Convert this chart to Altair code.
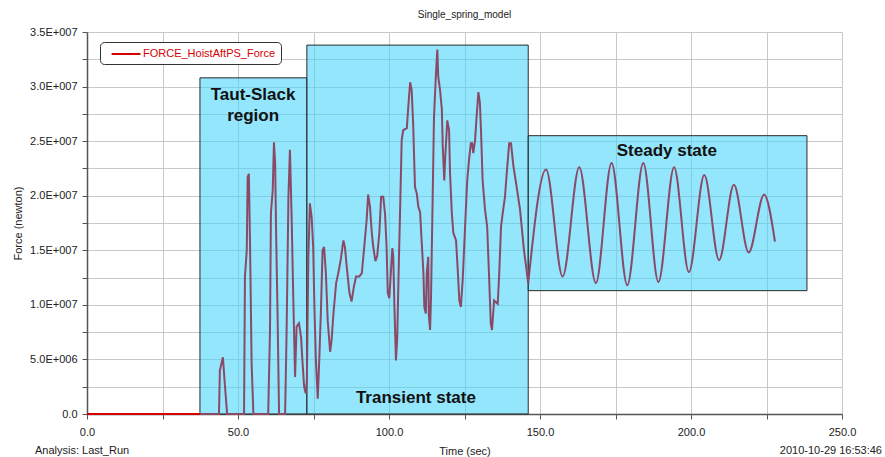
import altair as alt
import pandas as pd

# ---- data (time in s, force in 1e6 N) ----
t_red = [0.0, 37.4]
f_red = [0.0, 0.0]

# taut-slack + transient part
t_force = [37.4, 43.7, 44.0, 45.0, 45.7, 46.4, 52.0, 52.3, 52.9, 53.2, 53.6, 54.0, 54.5, 55.1,
           60.0, 60.6, 60.9, 61.5, 61.9, 62.3, 62.6, 63.1, 63.6, 65.6, 66.1, 66.7, 67.2, 67.8,
           68.3, 68.9, 69.4, 70.2, 70.9, 71.3, 71.9, 72.4, 72.8, 73.3, 73.8, 74.4, 74.9, 75.3,
           75.8, 76.4, 76.9, 77.5, 78.0, 78.5, 79.1, 79.7, 80.5, 81.0, 81.6, 82.5, 83.2, 84.0,
           84.9, 85.4, 86.0, 86.9, 87.6, 88.4, 89.1, 90.2, 91.0, 91.7, 92.6, 93.1, 93.7, 94.3,
           94.8, 95.5, 96.1, 96.8, 97.4, 98.1, 98.7, 99.2, 99.6, 100.1, 100.6, 101.1, 101.4,
           101.8, 102.3, 102.7, 103.3, 103.6, 104.2, 104.7, 105.9, 106.4, 107.0, 107.5, 108.0,
           108.6, 109.2, 109.7, 110.3, 110.8, 111.4, 111.7, 112.2, 112.5, 113.0, 113.2, 113.6,
           113.9, 114.3, 114.9, 115.5, 116.0, 116.3, 116.9, 117.5, 117.8, 118.3, 118.6, 119.3,
           119.9, 120.2, 120.8, 121.3, 122.2, 122.7, 123.3, 123.8, 124.4, 125.2, 125.9, 126.5,
           127.1, 127.5, 127.9, 128.5, 129.0, 129.6, 130.1, 130.5, 131.0, 131.8, 132.5, 133.1,
           133.7, 134.1, 134.8, 136.0, 136.5, 137.1, 137.8, 138.4, 139.0, 139.8, 140.4, 141.2,
           142.1, 143.4, 144.7, 146.1]
f_force = [0.0, 0.0, 4.0, 5.2, 2.5, 0.0, 0.0, 12.6, 15.0, 21.7, 22.0, 15.3, 4.7, 0.0,
           0.0, 7.7, 18.4, 20.5, 24.9, 23.0, 16.9, 9.2, 0.0, 0.0, 7.7, 19.9, 24.2, 17.5,
           10.7, 3.4, 8.0, 8.3, 7.0, 5.0, 2.5, 1.9, 3.0, 14.4, 19.3, 18.0, 15.3, 9.8,
           4.9, 1.4, 4.9, 9.8, 15.0, 15.3, 12.9, 8.6, 5.7, 6.8, 9.2, 12.0, 12.9, 14.1,
           15.9, 15.3, 13.5, 11.1, 10.3, 11.7, 12.6, 12.6, 12.9, 15.0, 17.8, 20.1, 19.0, 16.6,
           15.3, 14.0, 14.5, 16.6, 19.9, 19.9, 18.3, 15.3, 11.1, 10.6, 12.9, 15.2, 14.5,
           9.8, 4.9, 6.8, 14.4, 17.8, 25.1, 26.0, 26.2, 28.2, 30.4, 29.7, 26.6,
           20.8, 20.2, 19.0, 18.5, 15.9, 12.9, 9.8, 9.2, 12.9, 14.4, 9.0, 7.7,
           10.5, 17.2, 27.2, 30.9, 33.4, 30.9, 29.7, 27.9, 24.5, 21.4, 23.4, 26.9,
           26.0, 22.1, 18.4, 16.6, 15.9, 13.5, 10.4, 9.8, 12.3, 17.2, 21.4, 23.3,
           24.8, 24.8, 23.9, 25.1, 27.2, 29.5, 28.5, 25.7, 21.4, 18.7, 17.2, 12.9,
           8.3, 7.7, 10.4, 10.1, 12.9, 17.2, 18.7, 19.9, 22.1, 24.8, 24.8, 22.7,
           21.1, 18.7, 15.0, 12.0]

# steady-state part (peaks and troughs)
t_steady = [146.1, 152.0, 157.5, 163.0, 168.5, 173.7, 178.9, 184.2, 189.2,
            194.4, 199.3, 204.4, 209.3, 214.2, 219.1, 224.2, 227.8]
f_steady = [12.0, 22.4, 12.6, 22.6, 12.0, 23.0, 11.8, 23.0, 12.1,
            22.6, 13.0, 21.9, 14.1, 21.0, 14.8, 20.1, 15.8]

box_x0 = [37.4, 72.8, 146.1]
box_x1 = [72.8, 146.1, 238.4]
box_y0 = [0.0, 0.0, 11.3]
box_y1 = [30.8, 33.8, 25.5]

label_text = ["Taut-Slack", "region", "Transient state", "Steady state"]
label_t = [55.0, 55.0, 108.9, 192.0]
label_f = [29.2, 27.3, 1.5, 24.1]

x_ticks = [0, 25, 50, 75, 100, 125, 150, 175, 200, 225, 250]
y_ticks = [0, 2.5, 5, 7.5, 10, 12.5, 15, 17.5, 20, 22.5, 25, 27.5, 30, 32.5, 35]

series_name = "FORCE_HoistAftPS_Force"
FONT = "Liberation Sans"

red_df = pd.DataFrame({"t": t_red, "f": f_red, "series": series_name})
force_df = pd.DataFrame({"t": t_force, "f": f_force})
steady_df = pd.DataFrame({"t": t_steady, "f": f_steady})
box_df = pd.DataFrame({"t": box_x0, "t2": box_x1, "f": box_y0, "f2": box_y1})
lab_df = pd.DataFrame({"t": label_t, "f": label_f, "txt": label_text})

x_axis = alt.Axis(values=x_ticks,
                  labelExpr="datum.value % 50 == 0 ? format(datum.value, '.1f') : ''",
                  grid=True, gridColor="#c8c8c8", gridWidth=1,
                  domainColor="#555555", domainWidth=1.5,
                  tickColor="#555555", tickSize=5, labelPadding=7,
                  labelFont=FONT, labelFontSize=11, labelColor="#222222",
                  titleFont=FONT, titleFontSize=11, titleFontWeight="normal",
                  titleColor="#222222", titlePadding=8, labelFlush=False)
y_axis = alt.Axis(values=y_ticks,
                  labelExpr="datum.value == 0 ? '0.0' : (datum.value % 5 != 0 ? '' : (datum.value < 10 ? format(datum.value, '.1f') + 'E+006' : format(datum.value / 10, '.1f') + 'E+007'))",
                  grid=True, gridColor="#c8c8c8", gridWidth=1,
                  domainColor="#555555", domainWidth=1.5,
                  tickColor="#555555", tickSize=5, labelPadding=5,
                  labelFont=FONT, labelFontSize=11, labelColor="#222222",
                  titleFont=FONT, titleFontSize=11, titleFontWeight="normal",
                  titleColor="#222222", titlePadding=6, labelFlush=False)

xs = alt.Scale(domain=[0, 250], nice=False, zero=False)
ys = alt.Scale(domain=[0, 35], nice=False, zero=False)


def X(field="t"):
    return alt.X(f"{field}:Q", scale=xs, axis=x_axis, title="Time (sec)")


def Y(field="f"):
    return alt.Y(f"{field}:Q", scale=ys, axis=y_axis, title="Force (newton)")


boxes = alt.Chart(box_df).mark_rect(
    fill="#45d4f8", fillOpacity=0.58, stroke="#2b2b2b", strokeWidth=1
).encode(x=X(), x2="t2:Q", y=Y(), y2="f2:Q")

red_line = alt.Chart(red_df).mark_line(strokeWidth=2).encode(
    x=X(), y=Y(),
    color=alt.Color("series:N",
                    scale=alt.Scale(domain=[series_name], range=["#d40000"]),
                    legend=alt.Legend(title=None, orient="none", legendX=13, legendY=10,
                                      strokeColor="#333333", cornerRadius=4,
                                      fillColor="white", padding=5,
                                      symbolType="M-2.4,0H2.4", symbolSize=144,
                                      symbolOffset=14,
                                      symbolStrokeWidth=2, labelColor="#d40000",
                                      labelFont=FONT, labelFontSize=11, labelOffset=10))
)

force_line = alt.Chart(force_df).mark_line(
    color="#8a4a67", strokeWidth=2
).encode(x=X(), y=Y(), order="t:Q")

steady_line = alt.Chart(steady_df).mark_line(
    color="#8a4a67", strokeWidth=2, interpolate="monotone"
).encode(x=X(), y=Y(), order="t:Q")

labels = alt.Chart(lab_df).mark_text(
    font=FONT, fontSize=17, fontWeight="bold", color="#111111", baseline="middle"
).encode(x=X(), y=Y(), text="txt:N")

foot_df = pd.DataFrame({"s": ["Analysis:  Last_Run"]})
foot_left = alt.Chart(foot_df).mark_text(
    font=FONT, fontSize=11, color="#222222", align="left", baseline="middle"
).encode(x=alt.value(-52), y=alt.value(419), text="s:N")

date_df = pd.DataFrame({"s": ["2010-10-29 16:53:46"]})
foot_right = alt.Chart(date_df).mark_text(
    font=FONT, fontSize=11, color="#222222", align="right", baseline="middle"
).encode(x=alt.value(795), y=alt.value(419), text="s:N")

chart = alt.layer(boxes, red_line, force_line, steady_line, labels,
                  foot_left, foot_right).properties(
    width=755, height=382,
    title=alt.TitleParams("Single_spring_model", font=FONT, fontSize=10,
                          fontWeight="normal", color="#222222", offset=6,
                          anchor="middle"),
    autosize=alt.AutoSizeParams(type="none"),
    padding={"left": 87, "top": 32, "right": 43, "bottom": 43},
    background="white",
).configure_view(strokeWidth=0)

chart.save("out.html", embed_options={"renderer": "svg", "actions": False})
